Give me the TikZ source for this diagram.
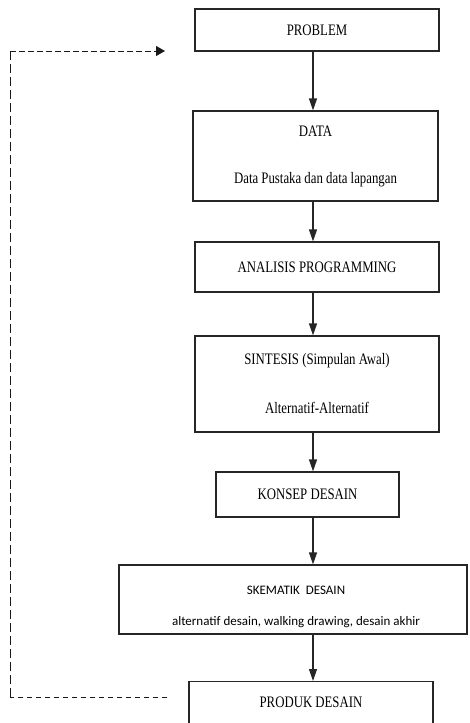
\documentclass[tikz,border=0pt]{standalone}
\usepackage{fontspec}
\setmainfont[FakeStretch=0.8]{Liberation Serif}
\newfontfamily\calib{Carlito}
\usetikzlibrary{arrows.meta}
\begin{document}
\begin{tikzpicture}[x=1pt,y=-1pt,
  box/.style={draw=black!85, line width=1.2pt, rectangle, inner sep=0pt,
    font=\fontsize{16}{19}\selectfont, align=center},
  sanstext/.style={inner sep=0pt, font=\calib\fontsize{13}{15.6}\selectfont, align=center},
  arr/.style={draw=black!85, line width=1.2pt, -{Triangle[length=12pt,width=8pt]}},
  dashh/.style={draw=black!90, line width=1pt, dash pattern=on 5.5pt off 3.5pt},
  dashv/.style={draw=black!90, line width=1pt, dash pattern=on 9pt off 4pt}]
\useasboundingbox (0,0) rectangle (469,723);
\clip (0,0) rectangle (469,723);

\node[box, minimum width=244, minimum height=42] (problem) at (317,30) {PROBLEM};
\node[box, minimum width=245, minimum height=90] (data) at (315.5,156)
  {DATA\\[28pt]Data Pustaka dan data lapangan};
\node[box, minimum width=244, minimum height=50] (analisis) at (317,267) {ANALISIS PROGRAMMING};
\node[box, minimum width=244, minimum height=96] (sintesis) at (317,384)
  {SINTESIS (Simpulan Awal)\\[30pt]Alternatif-Alternatif};
\node[box, minimum width=183, minimum height=45] (konsep) at (307.5,494.5) {KONSEP DESAIN};
\node[box, minimum width=348, minimum height=69] (skematik) at (293,599.5) {};
\node[sanstext] (skemtext) at (296,607)
  {SKEMATIK\hspace{3pt} DESAIN\\[15pt]alternatif desain, walking drawing, desain akhir};
\node[box, minimum width=244, text height=26.3pt, text depth=30pt, anchor=north]
  (produk) at (311,681) {PRODUK DESAIN};

\coordinate (ax) at (313,0);
\draw[arr] (problem.south -| ax) -- (data.north -| ax);
\draw[arr] (data.south -| ax) -- (analisis.north -| ax);
\draw[arr] (analisis.south -| ax) -- (sintesis.north -| ax);
\draw[arr] (sintesis.south -| ax) -- (konsep.north -| ax);
\draw[arr] (konsep.south -| ax) -- (skematik.north -| ax);
\draw[arr] (skematik.south -| ax) -- (produk.north -| ax);

\coordinate (lb) at (167,697);
\coordinate (lc) at (10,697);
\coordinate (lt) at (10,51);
\coordinate (la) at (165,51);
\draw[dashh] (lb) -- (lc);
\draw[dashv] (lc) -- (lt);
\draw[dashh, -{Triangle[length=9pt,width=10pt]}] (lt) -- (la);
\end{tikzpicture}
\end{document}
